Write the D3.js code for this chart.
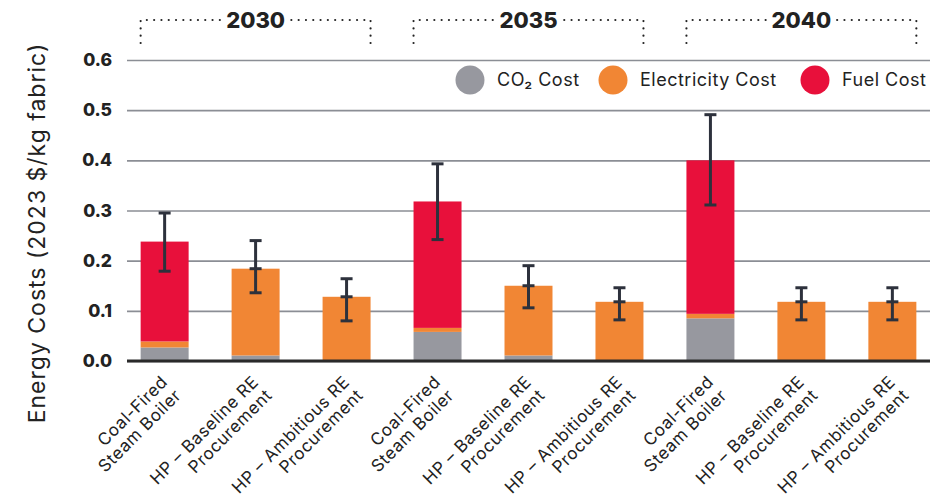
<!DOCTYPE html>
<html>
<head>
<meta charset="utf-8">
<script src="https://cdn.jsdelivr.net/npm/d3@7"></script>
<style>
  body { margin: 0; background: #fff; }
  text { font-family: Inter, 'Open Sans', sans-serif; fill: #222; }
</style>
</head>
<body>
<div id="d3-container"></div>
<script>
// DATA
const years = ['2030', '2035', '2040'];
const scenarios = [
  ['Coal-Fired', 'Steam Boiler'],
  ['HP – Baseline RE', 'Procurement'],
  ['HP – Ambitious RE', 'Procurement'],
];
const co2Cost = [0.027, 0.011, 0, 0.058, 0.011, 0, 0.085, 0, 0];
const electricityCost = [0.012, 0.173, 0.128, 0.008, 0.139, 0.118, 0.009, 0.118, 0.118];
const fuelCost = [0.199, 0, 0, 0.252, 0, 0, 0.306, 0, 0];
const errLow = [0.179, 0.136, 0.08, 0.242, 0.106, 0.082, 0.311, 0.082, 0.082];
const errHigh = [0.295, 0.24, 0.164, 0.393, 0.19, 0.146, 0.491, 0.146, 0.146];
const yTicks = [0, 0.1, 0.2, 0.3, 0.4, 0.5, 0.6];
const seriesNames = ['CO₂ Cost', 'Electricity Cost', 'Fuel Cost'];
const seriesKeys = ['co2', 'elec', 'fuel'];

// CONST
const width = 951,
  height = 501,
  margin = { top: 60, bottom: 140, left: 127, right: 21 };
const colors = { co2: '#97989f', elec: '#f18634', fuel: '#e8103b' };

// build rows
const rows = [];
years.forEach((yr, yi) => {
  scenarios.forEach((sc, si) => {
    const i = yi * 3 + si;
    rows.push({
      id: yr + '-' + si,
      year: yr,
      label: sc,
      co2: co2Cost[i],
      elec: electricityCost[i],
      fuel: fuelCost[i],
      lo: errLow[i],
      hi: errHigh[i],
    });
  });
});

const svg = d3
  .select('#d3-container')
  .append('svg')
  .attr('width', width)
  .attr('height', height);

const xScale = d3
  .scaleBand()
  .domain(rows.map(d => d.id))
  .range([margin.left, width - margin.right])
  .paddingInner(0.4725)
  .paddingOuter(0.15);

const yScale = d3
  .scaleLinear()
  .domain([0, 0.6])
  .range([height - margin.bottom, margin.top]);

// gridlines + y labels
const yAxis = d3
  .axisLeft(yScale)
  .tickValues(yTicks)
  .tickFormat(d3.format('.1f'))
  .tickSize(-(width - margin.left - margin.right))
  .tickPadding(15);

const yG = svg
  .append('g')
  .attr('class', 'axis y-axis')
  .attr('transform', `translate(${margin.left},0)`)
  .call(yAxis);
yG.select('.domain').remove();
yG.selectAll('.tick line').attr('stroke', '#8b8e95').attr('stroke-width', 1.6);
yG.selectAll('.tick text')
  .attr('font-size', 17.5)
  .attr('font-weight', 800)
  .attr('fill', '#222');

// stacked bars
const stack = d3.stack().keys(seriesKeys)(rows);
svg
  .append('g')
  .selectAll('g')
  .data(stack)
  .join('g')
  .attr('fill', s => colors[s.key])
  .selectAll('rect')
  .data(s => s)
  .join('rect')
  .attr('x', d => xScale(d.data.id))
  .attr('width', xScale.bandwidth())
  .attr('y', d => yScale(d[1]))
  .attr('height', d => yScale(d[0]) - yScale(d[1]));

// zero line
svg
  .append('line')
  .attr('x1', margin.left)
  .attr('x2', width - margin.right)
  .attr('y1', yScale(0))
  .attr('y2', yScale(0))
  .attr('stroke', '#2a2a2a')
  .attr('stroke-width', 3);

// error bars
const capW = 6;
const err = svg
  .append('g')
  .attr('stroke', '#2d313c')
  .attr('stroke-width', 3)
  .selectAll('g')
  .data(rows)
  .join('g')
  .attr('transform', d => `translate(${xScale(d.id) + xScale.bandwidth() / 2},0)`);
err.append('line').attr('y1', d => yScale(d.lo)).attr('y2', d => yScale(d.hi));
err.append('line').attr('x1', -capW).attr('x2', capW).attr('y1', d => yScale(d.lo)).attr('y2', d => yScale(d.lo));
err.append('line').attr('x1', -capW).attr('x2', capW).attr('y1', d => yScale(d.hi)).attr('y2', d => yScale(d.hi));
err
  .filter(d => d.fuel === 0)
  .append('line')
  .attr('x1', -capW)
  .attr('x2', capW)
  .attr('y1', d => yScale(d.co2 + d.elec))
  .attr('y2', d => yScale(d.co2 + d.elec));

// x labels
const xl = svg
  .append('g')
  .selectAll('text')
  .data(rows)
  .join('text')
  .attr('transform', d => `translate(${xScale(d.id) + xScale.bandwidth() / 2 + 4},${yScale(0) + 22}) rotate(-45)`)
  .attr('text-anchor', 'end')
  .attr('font-size', 17)
  .attr('letter-spacing', 0.6);
xl.selectAll('tspan')
  .data(d => d.label)
  .join('tspan')
  .attr('x', 0)
  .attr('dy', (d, i) => (i === 0 ? 0 : '1.12em'))
  .text(d => d);

// year brackets
const yearG = svg
  .append('g')
  .selectAll('g')
  .data(years)
  .join('g');
const bracketY = 20,
  bracketBottom = 43;
yearG.each(function (yr) {
  const g = d3.select(this);
  const ids = rows.filter(d => d.year === yr).map(d => d.id);
  const x0 = xScale(ids[0]);
  const x1 = xScale(ids[2]) + xScale.bandwidth();
  const cx = (x0 + x1) / 2;
  const gap = 34;
  const dotted = sel =>
    sel
      .attr('stroke', '#222')
      .attr('stroke-width', 2.2)
      .attr('stroke-linecap', 'round')
      .attr('stroke-dasharray', '0 7.3')
      .attr('fill', 'none');
  g.append('path').attr('d', `M${x0},${bracketBottom}V${bracketY}H${cx - gap}`).call(dotted);
  g.append('path').attr('d', `M${x1},${bracketBottom}V${bracketY}H${cx + gap}`).call(dotted);
  g.append('text')
    .attr('x', cx)
    .attr('y', bracketY + 8)
    .attr('text-anchor', 'middle')
    .attr('font-size', 22)
    .attr('font-weight', 800)
    .text(yr);
});

// legend
const legendX = [470, 613, 815];
const legend = svg
  .append('g')
  .selectAll('g')
  .data(seriesKeys)
  .join('g')
  .attr('transform', (d, i) => `translate(${legendX[i]},80)`);
legend.append('circle').attr('r', 14.5).attr('fill', d => colors[d]);
legend
  .append('text')
  .attr('x', 27)
  .attr('dy', '0.36em')
  .attr('font-size', 18)
  .attr('letter-spacing', 0.5)
  .attr('fill', '#333')
  .text((d, i) => seriesNames[i]);

// y title
svg
  .append('text')
  .attr('transform', 'translate(45,233) rotate(-90)')
  .attr('text-anchor', 'middle')
  .attr('font-size', 23)
  .attr('letter-spacing', 1)
  .attr('fill', '#222')
  .text('Energy Costs (2023 $/kg fabric)');
</script>
</body>
</html>
